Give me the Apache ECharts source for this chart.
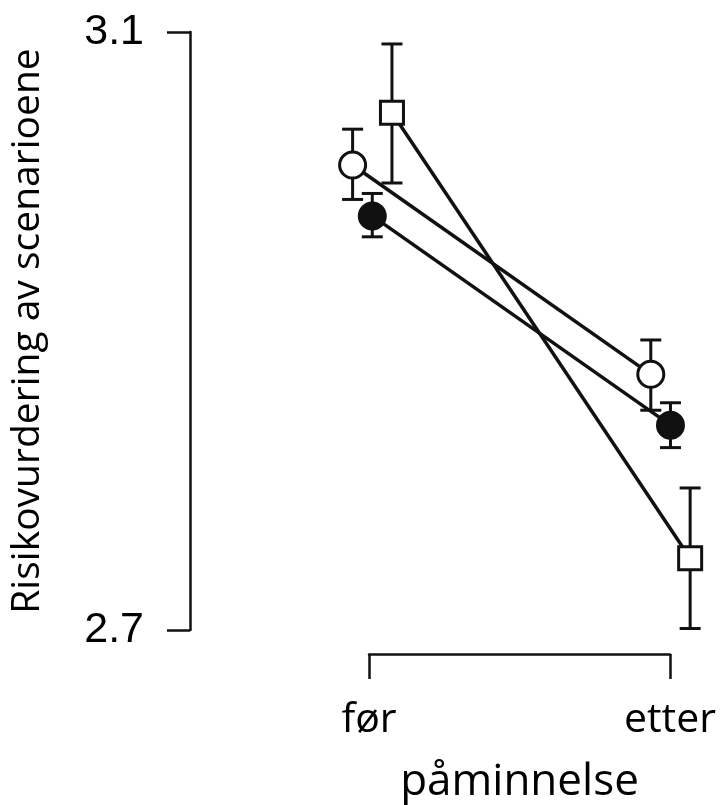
<!DOCTYPE html>
<html>
<head>
<meta charset="utf-8">
<script src="https://cdn.jsdelivr.net/npm/echarts@6/dist/echarts.min.js"></script>
<style>
  html, body { margin: 0; padding: 0; background: #fff; }
  #chart { width: 720px; height: 805px; }
</style>
</head>
<body>
<div id="chart"></div>
<script>
// data (means and error bar ends, før / etter)
const categories = ["før", "etter"];
const openMean = [3.011, 2.871];
const openLow = [2.988, 2.847];
const openHigh = [3.035, 2.894];
const filledMean = [2.977, 2.837];
const filledLow = [2.963, 2.822];
const filledHigh = [2.992, 2.852];
const squareMean = [3.046, 2.748];
const squareLow = [2.999, 2.701];
const squareHigh = [3.092, 2.795];
const yTicks = [2.7, 3.1];
const xTicks = [1, 2];

const INK = "#111";
const DODGE = 0.066;

const groups = [
  { mean: openMean, low: openLow, high: openHigh, shift: -DODGE, symbol: "circle", size: 26, fill: "#fff" },
  { mean: filledMean, low: filledLow, high: filledHigh, shift: 0, symbol: "circle", size: 26, fill: INK },
  { mean: squareMean, low: squareLow, high: squareHigh, shift: DODGE, symbol: "rect", size: 23, fill: "#fff" },
];

function points(g) {
  return g.mean.map((m, i) => [xTicks[i] + g.shift, m]);
}

function errRows() {
  const rows = [];
  groups.forEach((g) => {
    g.mean.forEach((m, i) => rows.push([xTicks[i] + g.shift, g.low[i], g.high[i]]));
  });
  return rows;
}

function renderErr(params, api) {
  const x = api.value(0);
  const top = api.coord([x, api.value(2)]);
  const bot = api.coord([x, api.value(1)]);
  const half = 10.5;
  const style = { stroke: INK, lineWidth: 3 };
  return {
    type: "group",
    children: [
      { type: "line", shape: { x1: top[0], y1: top[1], x2: bot[0], y2: bot[1] }, style },
      { type: "line", shape: { x1: top[0] - half, y1: top[1], x2: top[0] + half, y2: top[1] }, style },
      { type: "line", shape: { x1: bot[0] - half, y1: bot[1], x2: bot[0] + half, y2: bot[1] }, style },
    ],
  };
}

const chart = echarts.init(document.getElementById("chart"), null, { renderer: "canvas" });

const series = [];
groups.forEach((g) => {
  series.push({
    type: "line",
    data: points(g),
    symbol: "none",
    z: 2,
    lineStyle: { color: INK, width: 3.5 },
    silent: true,
  });
});
series.push({
  type: "custom",
  data: errRows(),
  renderItem: renderErr,
  encode: { x: 0, y: [1, 2] },
  z: 3,
  silent: true,
});
groups.forEach((g) => {
  series.push({
    type: "scatter",
    data: points(g),
    symbol: g.symbol,
    symbolSize: g.size,
    z: 4,
    itemStyle: { color: g.fill, borderColor: INK, borderWidth: 3, opacity: 1 },
    silent: true,
  });
});

chart.setOption({
  animation: false,
  grid: [
    { left: 185, top: 32, width: 535, height: 598 },
    { left: 369, top: 600, width: 301, height: 58 },
  ],
  xAxis: [
    { gridIndex: 0, type: "value", min: 1 - 184 / 301, max: 2 + 50 / 301, show: false },
    {
      gridIndex: 1,
      type: "value",
      min: 1,
      max: 2,
      position: "bottom",
      name: "påminnelse",
      nameLocation: "middle",
      nameGap: 106,
      nameTextStyle: { fontFamily: "Open Sans", fontSize: 44, color: "#000" },
      axisLine: { show: true, onZero: false, lineStyle: { color: INK, width: 2.5 } },
      axisTick: { show: true, length: 25, customValues: xTicks, lineStyle: { color: INK, width: 2.5 } },
      axisLabel: {
        customValues: xTicks,
        margin: 46,
        fontFamily: "Open Sans",
        fontSize: 41,
        color: "#000",
        formatter: (v) => categories[Math.round(v) - 1],
      },
      splitLine: { show: false },
    },
  ],
  yAxis: [
    {
      gridIndex: 0,
      type: "value",
      min: 2.7,
      max: 3.1,
      name: "Risikovurdering av scenarioene",
      nameLocation: "middle",
      nameGap: 143,
      nameTextStyle: { fontFamily: "Open Sans", fontSize: 39, color: "#000" },
      axisLine: { show: true, lineStyle: { color: INK, width: 2.5 } },
      axisTick: { show: true, length: 23, customValues: yTicks, lineStyle: { color: INK, width: 2.5 } },
      axisLabel: {
        customValues: yTicks,
        margin: 46,
        fontFamily: "Liberation Sans",
        fontSize: 43,
        color: "#000",
        formatter: (v) => v.toFixed(1),
      },
      splitLine: { show: false },
    },
    { gridIndex: 1, type: "value", show: false },
  ],
  series,
});
</script>
</body>
</html>
